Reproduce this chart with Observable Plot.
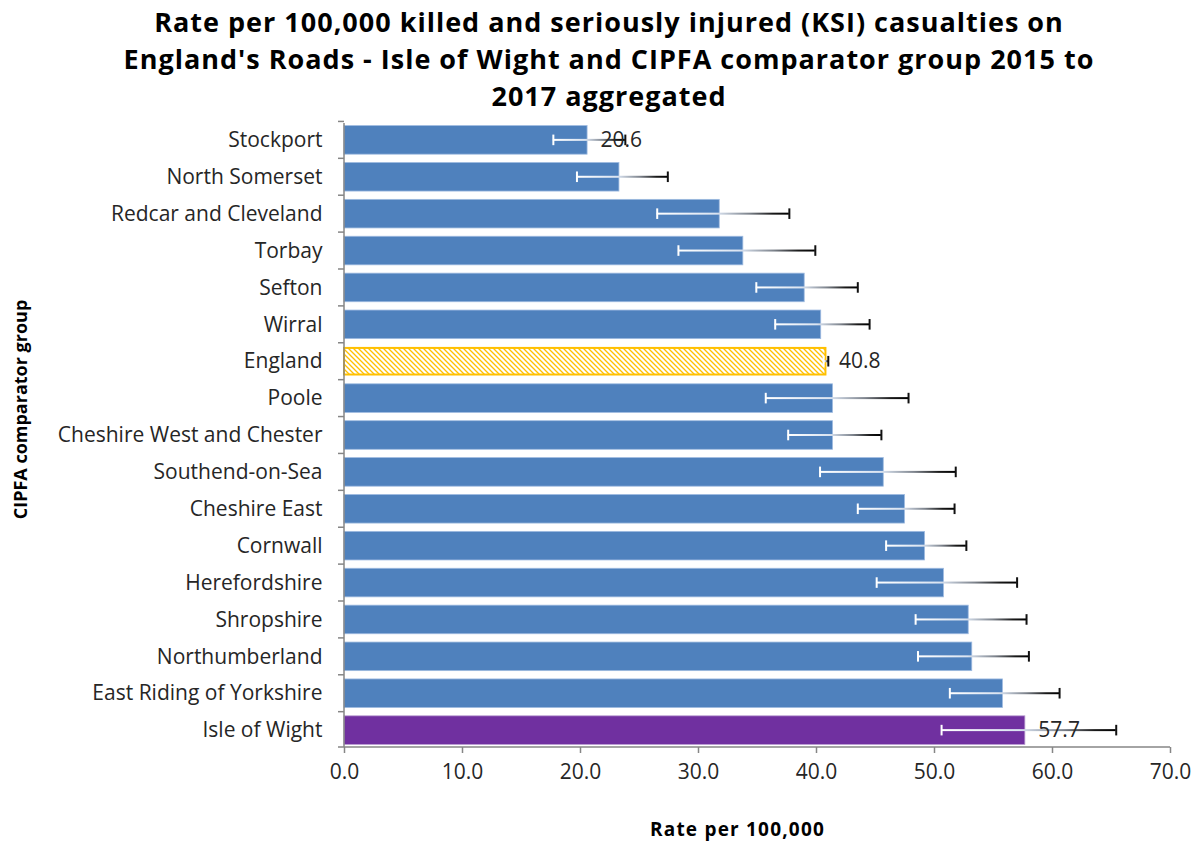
<!DOCTYPE html>
<html><head><meta charset="utf-8">
<script src="https://cdn.jsdelivr.net/npm/d3@7"></script>
<script src="https://cdn.jsdelivr.net/npm/@observablehq/plot@0.6"></script>
<style>
body{margin:0;background:#fff;font-family:"Open Sans",sans-serif;}
#title{width:1200px;box-sizing:border-box;padding-left:18px;padding-top:3px;text-align:center;font-weight:bold;font-size:27px;letter-spacing:1px;line-height:37px;height:115px;color:#000;white-space:nowrap;}
#chart svg{display:block;}
</style></head><body>
<div id="title">Rate per 100,000 killed and seriously injured (KSI) casualties on<br>England's Roads - Isle of Wight and CIPFA comparator group 2015 to<br>2017 aggregated</div>
<div id="chart"></div>
<script>
const areas = ["Stockport","North Somerset","Redcar and Cleveland","Torbay","Sefton","Wirral","England","Poole","Cheshire West and Chester","Southend-on-Sea","Cheshire East","Cornwall","Herefordshire","Shropshire","Northumberland","East Riding of Yorkshire","Isle of Wight"];
const rates = [20.6, 23.3, 31.8, 33.8, 39.0, 40.4, 40.8, 41.4, 41.4, 45.7, 47.5, 49.2, 50.8, 52.9, 53.2, 55.8, 57.7];
const lower = [17.7, 19.7, 26.5, 28.3, 34.9, 36.5, 40.6, 35.7, 37.6, 40.3, 43.5, 45.9, 45.1, 48.4, 48.6, 51.3, 50.6];
const upper = [23.8, 27.4, 37.7, 39.9, 43.5, 44.5, 41.0, 47.8, 45.5, 51.8, 51.7, 52.7, 57.0, 57.8, 58.0, 60.6, 65.4];
const xTicks = [0, 10, 20, 30, 40, 50, 60, 70];
const labelledAreas = ["Stockport", "England", "Isle of Wight"];
const benchmarkArea = "England";
const focusArea = "Isle of Wight";
const xTitle = "Rate per 100,000";
const yTitle = "CIPFA comparator group";

const data = areas.map((a, i) => ({area: a, rate: rates[i], lo: lower[i], hi: upper[i]}));
const others = data.filter(d => d.area !== benchmarkArea && d.area !== focusArea);
const bench = data.filter(d => d.area === benchmarkArea);
const focus = data.filter(d => d.area === focusArea);
const labelled = data.filter(d => labelledAreas.includes(d.area));

const NS = "http://www.w3.org/2000/svg";
const defsMark = () => {
  const g = document.createElementNS(NS, "g");
  g.innerHTML = `<defs>
    <pattern id="hatch" patternUnits="userSpaceOnUse" width="5" height="5">
      <rect width="5" height="5" fill="#fff"/>
      <path d="M-1,-1 L6,6 M-1,4 L1,6 M4,-1 L6,1" stroke="#FFC000" stroke-width="1.3"/>
    </pattern>
    <linearGradient id="errgrad" x1="0" y1="0" x2="1" y2="0">
      <stop offset="0" stop-color="#ffffff"/>
      <stop offset="0.45" stop-color="#d9e3f1"/>
      <stop offset="0.7" stop-color="#7d838c"/>
      <stop offset="0.88" stop-color="#1a1a1a"/>
      <stop offset="1" stop-color="#000000"/>
    </linearGradient></defs>`;
  return g;
};

const axesMark = (index, scales, values, dims) => {
  const g = document.createElementNS(NS, "g");
  const y = scales.y, x = scales.x;
  const step = y(areas[1]) - y(areas[0]);
  const bw = (typeof y.bandwidth === "function") ? y.bandwidth() : step * 0.775;
  const left = x(0), right = x(70);
  const bottom = dims.height - dims.marginBottom, top = dims.marginTop;
  const line = (x1, y1, x2, y2) => {
    const l = document.createElementNS(NS, "line");
    l.setAttribute("x1", x1); l.setAttribute("y1", y1);
    l.setAttribute("x2", x2); l.setAttribute("y2", y2);
    l.setAttribute("stroke", "#868686"); l.setAttribute("stroke-width", "1.5");
    g.appendChild(l);
  };
  line(left, top, left, bottom);
  line(left - 6, bottom, right, bottom);
  areas.forEach(a => {
    const c = y(a) + bw / 2;
    line(left - 6, c - step / 2, left, c - step / 2);
  });
  return g;
};

const chart = Plot.plot({
  width: 1200, height: 728,
  marginTop: 8, marginBottom: 96, marginLeft: 344, marginRight: 30,
  style: {fontFamily: "'Open Sans', sans-serif", fontSize: "17px", background: "#fff"},
  x: {domain: [0, 70], label: null},
  y: {domain: areas, paddingInner: 0.225, paddingOuter: 0.07, round: false, label: null},
  marks: [
    defsMark,
    Plot.barX(others, {x: "rate", y: "area", fill: "#4F81BD", stroke: "#9fbbe0", strokeWidth: 0.8}),
    Plot.barX(bench, {x: "rate", y: "area", fill: "url(#hatch)", stroke: "#FFC000", strokeWidth: 2, insetTop: 1, insetBottom: 1}),
    Plot.barX(focus, {x: "rate", y: "area", fill: "#7030A0", stroke: "#b99bd0", strokeWidth: 0.8}),
    axesMark,
    Plot.axisX({ticks: xTicks, tickFormat: d => d.toFixed(1), tickSize: 6, tickPadding: 11, stroke: "#868686", strokeWidth: 1.5, fill: "#262626", fontSize: 21, label: null}),
    Plot.axisY({tickSize: 0, tickPadding: 22, fill: "#262626", fontSize: 21, label: null}),
    Plot.barX(data, {x1: "lo", x2: "hi", y: "area", fill: "url(#errgrad)", insetTop: 13.3, insetBottom: 13.3}),
    Plot.tickX(data, {x: "lo", y: "area", stroke: "#ffffff", strokeWidth: 2, insetTop: 9, insetBottom: 9}),
    Plot.tickX(data, {x: "hi", y: "area", stroke: "#111111", strokeWidth: 2, insetTop: 9, insetBottom: 9}),
    Plot.text(labelled, {x: "rate", y: "area", text: d => d.rate.toFixed(1), dx: 13, textAnchor: "start", fontSize: 21, fill: "#262626"}),
    Plot.text([xTitle], {text: d => d, frameAnchor: "bottom", textAnchor: "middle", dx: -20, dy: 88, fontWeight: "bold", fontSize: 19, fill: "#000"}),
    Plot.text([yTitle], {text: d => d, frameAnchor: "left", textAnchor: "middle", rotate: -90, dx: -323, dy: -26, fontWeight: "bold", fontSize: 18, fill: "#000"})
  ]
});
d3.select(chart).selectAll("text").filter(function() { return this.textContent === xTitle; }).style("letter-spacing", "1.2px");
document.getElementById("chart").appendChild(chart);
</script>
</body></html>
